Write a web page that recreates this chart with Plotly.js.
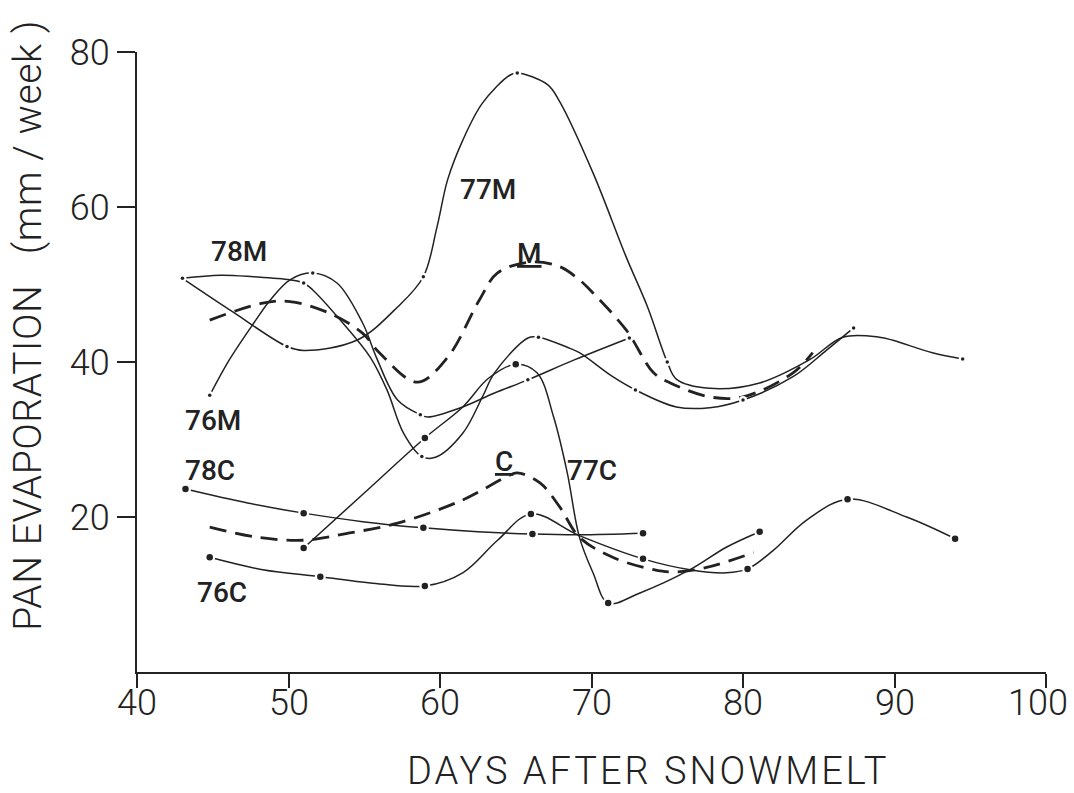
<!DOCTYPE html>
<html>
<head>
<meta charset="utf-8">
<script src="https://cdn.plot.ly/plotly-3.0.1.min.js"></script>
<style>html,body{margin:0;padding:0;background:#fff;}#chart{width:1074px;height:793px;}</style>
</head>
<body>
<div id="chart"></div>
<script>
// ---- data ----
// 77M (solid)
const m77_x = [43.0, 46.3, 49.9, 51.0, 54.5, 57.2, 58.9, 59.8, 60.5, 61.5, 62.8, 64.6, 65.1, 67.1, 67.9, 70.1, 72.3, 73.7, 75.0, 75.6, 77.8, 81.1, 84.4, 86.6, 89.0, 89.9, 92.5, 94.5];
const m77_y = [50.8, 46.5, 42.0, 41.5, 42.8, 47.1, 51.0, 57.4, 63.5, 68.6, 73.4, 77.0, 77.3, 75.8, 73.6, 64.4, 53.5, 47.1, 40.0, 37.8, 36.6, 37.3, 40.3, 43.2, 43.2, 42.8, 41.2, 40.4];
const m77_dx = [43.0, 49.9, 58.9, 65.1, 75.0, 94.5];
const m77_dy = [50.8, 42.0, 51.0, 77.3, 40.0, 40.4];
// 78M (solid)
const m78_x = [43.0, 45.5, 47.7, 50.1, 51.0, 51.6, 53.6, 55.4, 56.5, 57.6, 58.8, 59.7, 61.5, 62.8, 63.6, 65.8, 66.5, 68.4, 69.2, 71.4, 72.9, 75.6, 77.8, 80.0, 83.3, 85.5, 87.3];
const m78_y = [50.8, 51.2, 51.0, 50.6, 50.2, 49.3, 45.0, 40.6, 36.4, 30.8, 27.8, 27.7, 30.8, 35.5, 38.6, 43.1, 43.2, 41.9, 41.2, 38.1, 36.4, 34.2, 34.1, 35.1, 38.1, 41.5, 44.4];
const m78_dx = [51.0, 58.8, 66.5, 72.9, 80.0, 87.3];
const m78_dy = [50.2, 27.8, 43.2, 36.4, 35.1, 44.4];
// 76M (solid)
const m76_x = [44.8, 46.1, 47.7, 48.8, 50.1, 51.6, 53.2, 54.9, 55.8, 57.2, 58.7, 59.2, 61.5, 63.6, 65.8, 68.9, 72.5];
const m76_y = [35.7, 40.3, 45.0, 48.0, 50.6, 51.5, 50.2, 45.0, 40.6, 35.1, 33.2, 32.9, 34.2, 36.0, 37.7, 40.3, 43.1];
const m76_dx = [44.8, 51.6, 58.7, 65.8, 72.5];
const m76_dy = [35.7, 51.5, 33.2, 37.7, 43.1];
// M mean (dashed)
const mMean_x = [44.8, 48.3, 50.1, 52.7, 54.9, 56.0, 58.5, 60.5, 62.6, 63.8, 66.0, 67.9, 69.2, 70.1, 72.3, 74.1, 75.2, 77.8, 80.0, 83.3, 84.6];
const mMean_y = [45.4, 47.6, 47.8, 46.3, 43.7, 41.2, 37.4, 40.6, 48.0, 51.5, 52.9, 52.3, 50.6, 48.9, 44.1, 38.6, 37.3, 35.5, 35.5, 38.6, 41.2];
// 77C (solid)
const c77_x = [51.0, 55.0, 59.0, 61.5, 63.2, 65.0, 66.4, 67.5, 68.4, 69.2, 70.1, 71.1, 73.2, 76.5, 78.9, 81.1];
const c77_y = [16.0, 23.1, 30.2, 34.2, 37.9, 39.7, 38.6, 32.9, 25.7, 17.4, 12.8, 8.9, 10.2, 13.2, 16.1, 18.1];
const c77_dx = [51.0, 59.0, 65.0, 71.1, 81.1];
const c77_dy = [16.0, 30.2, 39.7, 8.9, 18.1];
// 76C (solid)
const c76_x = [44.8, 48.3, 52.1, 55.4, 59.0, 61.5, 63.8, 66.0, 69.2, 73.4, 76.5, 78.9, 80.3, 82.0, 84.2, 86.9, 90.8, 94.0];
const c76_y = [14.8, 13.2, 12.3, 11.5, 11.1, 12.8, 17.0, 20.4, 17.6, 14.6, 13.2, 12.8, 13.3, 15.7, 19.6, 22.3, 20.0, 17.2];
const c76_dx = [44.8, 52.1, 59.0, 66.0, 73.4, 80.3, 86.9, 94.0];
const c76_dy = [14.8, 12.3, 11.1, 20.4, 14.6, 13.3, 22.3, 17.2];
// 78C (solid)
const c78_x = [43.2, 47.3, 51.0, 54.9, 58.9, 62.5, 66.1, 69.2, 73.4];
const c78_y = [23.6, 21.8, 20.5, 19.4, 18.6, 18.1, 17.8, 17.7, 17.9];
const c78_dx = [43.2, 51.0, 58.9, 66.1, 73.4];
const c78_dy = [23.6, 20.5, 18.6, 17.8, 17.9];
// C mean (dashed)
const cMean_x = [44.8, 47.9, 51.0, 53.9, 57.2, 61.5, 64.4, 65.1, 66.6, 67.9, 69.2, 71.4, 74.1, 75.4, 77.6, 80.7];
const cMean_y = [18.7, 17.4, 17.0, 17.9, 19.2, 22.2, 25.2, 25.7, 24.4, 21.3, 17.4, 14.8, 13.2, 12.9, 13.5, 15.4];

// curve labels
const labelText = ['77M', '<u>M</u>', '78M', '76M', '78C', '<u>C</u>', '77C', '76C'];
const labelX = [63.2, 65.9, 46.7, 45.0, 44.8, 64.2, 70.0, 45.6];
const labelY = [62.2, 54.0, 54.2, 32.5, 26.0, 27.2, 26.0, 10.2];

// axes
const xTicks = [40, 50, 60, 70, 80, 90, 100];
const xTickText = ['40', '50', '60', '70', '80', '90', '100'];
const yTicks = [20, 40, 60, 80];
const yTickText = ['20', '40', '60', '80'];
const xTitle = 'DAYS AFTER SNOWMELT';
const yTitle = 'PAN EVAPORATION\u00a0\u00a0 (mm / week )';

// ---- drawing ----
const INK = '#222';
const traces = [];
function curve(x, y, dashed) {
  traces.push({
    x: x, y: y, type: 'scatter', mode: 'lines', hoverinfo: 'skip',
    line: dashed ? {color: INK, width: 2.8, dash: '17px,9px', shape: 'spline', smoothing: 1.0}
                 : {color: INK, width: 1.5, shape: 'spline', smoothing: 1.0}
  });
}
const dotSets = [];
function dots(x, y, big) { dotSets.push({x: x, y: y, big: big}); }

curve(m77_x, m77_y, false); dots(m77_dx, m77_dy, false);
curve(m78_x, m78_y, false); dots(m78_dx, m78_dy, false);
curve(m76_x, m76_y, false); dots(m76_dx, m76_dy, false);
curve(mMean_x, mMean_y, true);
curve(c77_x, c77_y, false); dots(c77_dx, c77_dy, true);
curve(c76_x, c76_y, false); dots(c76_dx, c76_dy, true);
curve(c78_x, c78_y, false); dots(c78_dx, c78_dy, true);
curve(cMean_x, cMean_y, true);

// white gaps around points, then the points
dotSets.forEach(d => traces.push({
  x: d.x, y: d.y, type: 'scatter', mode: 'markers', hoverinfo: 'skip',
  marker: {color: '#fff', size: d.big ? 11 : 8, line: {width: 0}}
}));
dotSets.forEach(d => traces.push({
  x: d.x, y: d.y, type: 'scatter', mode: 'markers', hoverinfo: 'skip',
  marker: {color: INK, size: d.big ? 6.5 : 3.5, line: {width: 0}}
}));

const lightFont = 'Roboto, "DejaVu Sans", sans-serif';
const tickFont = {family: lightFont, size: 36, color: INK, weight: 300};
const annotations = labelText.map((t, i) => ({
  x: labelX[i], y: labelY[i], xref: 'x', yref: 'y', text: t, showarrow: false,
  font: {family: lightFont, size: 28, color: INK, weight: 500},
  xanchor: 'center', yanchor: 'middle'
}));
// x tick labels (placed closer to the axis, as in the reference)
xTicks.forEach((v, i) => annotations.push({
  x: v, y: -0.05, xref: 'x', yref: 'paper', text: xTickText[i], showarrow: false,
  xanchor: 'center', yanchor: 'middle', xshift: (i === xTicks.length - 1) ? -8 : 0,
  font: tickFont
}));
annotations.push({
  x: 0.562, y: -0.16, xref: 'paper', yref: 'paper',
  text: '<span style="letter-spacing:3px">' + xTitle + '</span>', showarrow: false,
  xanchor: 'center', yanchor: 'middle',
  font: {family: lightFont, size: 38, color: INK, weight: 300}
});
annotations.push({
  x: -0.12, y: 0.56, xref: 'paper', yref: 'paper',
  text: '<span style="letter-spacing:0.6px">' + yTitle + '</span>', showarrow: false,
  textangle: -90, xanchor: 'center', yanchor: 'middle',
  font: {family: lightFont, size: 39, color: INK, weight: 300}
});

const layout = {
  width: 1074, height: 793,
  margin: {l: 137, r: 28, t: 52, b: 121, pad: 0},
  paper_bgcolor: '#fff', plot_bgcolor: '#fff',
  showlegend: false,
  xaxis: {
    range: [40, 100], tickmode: 'array', tickvals: xTicks, ticktext: xTickText,
    showticklabels: false,
    showline: true, linecolor: INK, linewidth: 2, mirror: false,
    ticks: 'outside', ticklen: 14, tickwidth: 2, tickcolor: INK,
    showgrid: false, zeroline: false, tickfont: tickFont, fixedrange: true
  },
  yaxis: {
    range: [0, 80], tickmode: 'array', tickvals: yTicks, ticktext: yTickText,
    showline: true, linecolor: INK, linewidth: 2, mirror: false,
    ticks: 'outside', ticklen: 18, tickwidth: 2, tickcolor: INK,
    showgrid: false, zeroline: false, tickfont: tickFont, fixedrange: true
  },
  annotations: annotations
};

Plotly.newPlot('chart', traces, layout, {displayModeBar: false, staticPlot: true});
</script>
</body>
</html>
